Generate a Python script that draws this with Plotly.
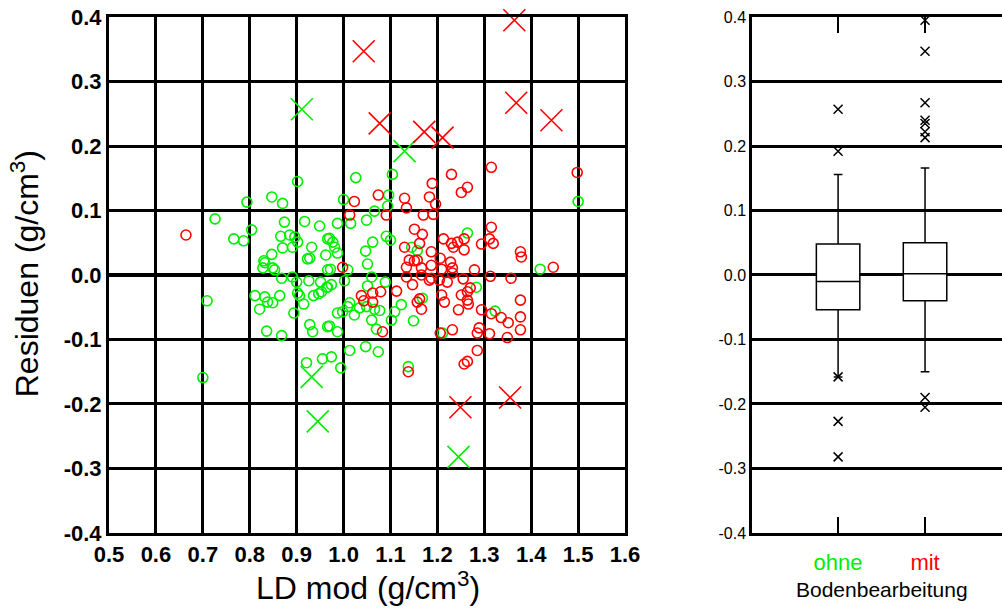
import plotly.graph_objects as go

# ---------------- data ----------------
ohne_x = [0.902, 0.794, 0.847, 0.870, 0.726, 0.804, 0.766, 0.787, 0.874, 0.917, 0.949, 0.866, 0.885, 0.896,
          0.902, 0.891, 0.870, 0.932, 0.966, 0.847, 0.923, 0.928, 0.962, 0.830, 0.832, 0.828, 0.849, 0.853,
          0.966, 0.709, 0.811, 0.832, 0.838, 0.849, 0.864, 0.821, 0.836, 0.868, 0.894, 0.902, 0.906, 0.915,
          0.936, 0.947, 0.953, 0.928, 0.934, 0.966, 0.868, 0.891, 0.900, 0.926, 0.951, 0.966, 0.921, 0.955,
          0.700, 1.026, 1.104, 1.000, 1.096, 1.094, 1.066, 0.987, 1.015, 1.049, 1.091, 1.100, 0.970, 0.977,
          0.981, 0.987, 1.062, 1.047, 1.051, 1.145, 1.157, 0.972, 1.009, 1.500, 1.264, 1.419, 1.060, 1.002,
          1.089, 0.974, 0.964, 1.051, 1.013, 1.009, 0.987, 0.998, 1.023, 1.034, 1.049, 1.066, 1.077, 1.060,
          1.102, 1.109, 1.123, 1.149, 1.070, 0.970, 0.987, 1.013, 1.047, 1.074, 0.974, 0.994, 1.138, 1.168,
          1.211, 1.283, 1.323]
ohne_y = [0.145, 0.113, 0.121, 0.111, 0.087, 0.070, 0.056, 0.053, 0.082, 0.083, 0.076, 0.060, 0.062, 0.059,
          0.051, 0.043, 0.042, 0.043, 0.056, 0.032, 0.025, 0.026, 0.031, 0.022, 0.019, 0.011, 0.011, 0.008,
          0.008, -0.040, -0.032, -0.034, -0.042, -0.043, -0.032, -0.053, -0.087, -0.094, -0.059, -0.028,
          -0.032, -0.045, -0.032, -0.029, -0.026, -0.077, -0.088, -0.080, -0.005, -0.003, -0.011, -0.009,
          -0.011, -0.019, -0.136, -0.130, -0.159, 0.151, 0.156, 0.117, 0.124, 0.107, 0.099, 0.080, 0.080,
          0.085, 0.060, 0.054, 0.057, 0.051, 0.043, 0.034, 0.051, 0.037, 0.017, 0.043, 0.038, 0.009, 0.008,
          0.114, 0.065, 0.009, -0.003, -0.009, -0.011, -0.015, -0.019, -0.017, -0.043, -0.049, -0.059, -0.057,
          -0.062, -0.051, -0.049, -0.053, -0.055, -0.070, -0.070, -0.057, -0.046, -0.071, -0.084, -0.079,
          -0.088, -0.117, -0.111, -0.119, -0.127, -0.144, -0.142, -0.036, -0.090, -0.019, -0.056]

mit_x = [0.664, 1.230, 1.189, 1.074, 1.023, 1.130, 1.134, 1.183, 1.196, 1.013, 1.091, 1.170, 1.191, 1.151,
         1.168, 1.162, 1.130, 1.213, 1.230, 1.234, 1.187, 1.206, 1.140, 1.151, 1.157, 1.134, 1.166, 1.187,
         1.209, 1.228, 1.232, 0.998, 1.315, 1.251, 1.264, 1.498, 1.315, 1.311, 1.319, 1.257, 1.243, 1.257,
         1.294, 1.377, 1.379, 1.447, 1.279, 1.134, 1.147, 1.113, 1.038, 1.043, 1.062, 1.079, 1.062, 1.162,
         1.157, 1.166, 1.183, 1.187, 1.204, 1.221, 1.209, 1.215, 1.232, 1.206, 1.083, 1.138, 1.166, 1.232,
         1.313, 1.357, 1.255, 1.251, 1.264, 1.270, 1.264, 1.266, 1.245, 1.294, 1.315, 1.336, 1.351, 1.377,
         1.377, 1.377, 1.349, 1.311, 1.289, 1.285, 1.285, 1.264, 1.257]
mit_y = [0.062, 0.156, 0.142, 0.124, 0.114, 0.119, 0.104, 0.121, 0.110, 0.093, 0.093, 0.093, 0.094, 0.071,
         0.063, 0.049, 0.043, 0.056, 0.049, 0.043, 0.036, 0.026, 0.023, 0.022, 0.023, 0.012, 0.011, 0.015,
         0.009, 0.020, 0.011, 0.012, 0.167, 0.128, 0.136, 0.159, 0.074, 0.056, 0.049, 0.056, 0.051, 0.039,
         0.048, 0.036, 0.028, 0.012, 0.008, -0.003, -0.015, -0.025, -0.032, -0.040, -0.028, -0.026, -0.042,
         -0.037, -0.042, -0.053, -0.008, -0.005, -0.008, -0.011, -0.031, -0.042, -0.085, -0.090, -0.088,
         -0.150, 0.000, 0.003, -0.002, -0.005, -0.006, -0.031, -0.026, -0.020, -0.039, -0.045, -0.054,
         -0.054, -0.060, -0.066, -0.074, -0.039, -0.065, -0.085, -0.097, -0.091, -0.082, -0.090, -0.117,
         -0.134, -0.138]

# outliers (large crosses in the scatter, small crosses in the box plot)
ohne_out_x = [0.911, 1.130, 0.932, 0.945, 1.245]
ohne_out_y = [0.257, 0.192, -0.158, -0.227, -0.282]
mit_out_x = [1.364, 1.043, 1.368, 1.443, 1.077, 1.172, 1.211, 1.249, 1.355]
mit_out_y = [0.395, 0.347, 0.267, 0.240, 0.235, 0.222, 0.213, -0.205, -0.190]

# box statistics: q1, median, q3, lower whisker, upper whisker
groups = ["ohne", "mit"]
box_q1 = [-0.054, -0.040]
box_median = [-0.010, 0.002]
box_q3 = [0.048, 0.050]
box_low = [-0.158, -0.150]
box_high = [0.156, 0.166]

x_ticks = [0.5, 0.6, 0.7, 0.8, 0.9, 1.0, 1.1, 1.2, 1.3, 1.4, 1.5, 1.6]
x_tick_text = ["0.5", "0.6", "0.7", "0.8", "0.9", "1.0", "1.1", "1.2", "1.3", "1.4", "1.5", "1.6"]
y_ticks = [-0.4, -0.3, -0.2, -0.1, 0.0, 0.1, 0.2, 0.3, 0.4]
y_tick_text = ["-0.4", "-0.3", "-0.2", "-0.1", "0.0", "0.1", "0.2", "0.3", "0.4"]

GREEN = "#00ee00"
RED = "#ff0000"
FONT = "Liberation Sans, Arial, sans-serif"

fig = go.Figure()

# scatter (left)
fig.add_trace(go.Scatter(x=ohne_x, y=ohne_y, mode="markers", xaxis="x", yaxis="y",
                         marker=dict(symbol="circle-open", size=10, color=GREEN, line=dict(width=1.6))))
fig.add_trace(go.Scatter(x=mit_x, y=mit_y, mode="markers", xaxis="x", yaxis="y",
                         marker=dict(symbol="circle-open", size=10, color=RED, line=dict(width=1.6))))
fig.add_trace(go.Scatter(x=ohne_out_x, y=ohne_out_y, mode="markers", xaxis="x", yaxis="y", cliponaxis=False,
                         marker=dict(symbol="x-thin-open", size=22, color=GREEN, line=dict(width=1.6, color=GREEN))))
fig.add_trace(go.Scatter(x=mit_out_x, y=mit_out_y, mode="markers", xaxis="x", yaxis="y", cliponaxis=False,
                         marker=dict(symbol="x-thin-open", size=22, color=RED, line=dict(width=1.6, color=RED))))

# box plot (right)
for i in range(len(groups)):
    fig.add_trace(go.Box(x=[i], q1=[box_q1[i]], median=[box_median[i]], q3=[box_q3[i]],
                         lowerfence=[box_low[i]], upperfence=[box_high[i]],
                         xaxis="x2", yaxis="y2", width=0.5, whiskerwidth=0.2,
                         fillcolor="white", line=dict(color="black", width=1.5), boxpoints=False))
for i, outs in enumerate([ohne_out_y, mit_out_y]):
    fig.add_trace(go.Scatter(x=[i] * len(outs), y=outs, mode="markers", xaxis="x2", yaxis="y2", cliponaxis=False,
                             marker=dict(symbol="x-thin-open", size=9, color="black",
                                         line=dict(width=1.5, color="black"))))

fig.update_layout(
    width=1002, height=608, margin=dict(l=0, r=0, t=0, b=0),
    paper_bgcolor="white", plot_bgcolor="white", showlegend=False,
    font=dict(family=FONT, color="black"),
    xaxis=dict(domain=[0.1088, 0.6238], range=[0.5, 1.6], tickvals=x_ticks, ticktext=x_tick_text,
               showgrid=True, gridcolor="black", gridwidth=2.5, zeroline=False,
               showline=True, linecolor="black", linewidth=3, mirror=True, ticks="",
               tickfont=dict(family=FONT, size=22, weight="bold"), anchor="y", automargin=False),
    yaxis=dict(domain=[0.1234, 0.972], range=[-0.4, 0.4], tickvals=y_ticks, ticktext=y_tick_text,
               showgrid=True, gridcolor="black", gridwidth=2.5,
               zeroline=True, zerolinecolor="black", zerolinewidth=3.5,
               showline=True, linecolor="black", linewidth=3, mirror=True, ticks="",
               tickfont=dict(family=FONT, size=22, weight="bold"), anchor="x", automargin=False),
    xaxis2=dict(domain=[0.7505, 1.0], range=[-0.99, 1.885], tickvals=[0, 1],
                ticktext=[f'<span style="color:{GREEN}">ohne</span>', f'<span style="color:{RED}">mit</span>'],
                showgrid=False, zeroline=False, showline=True, linecolor="black", linewidth=3,
                mirror="ticks", ticks="inside", ticklen=16, tickwidth=2, tickcolor="black",
                ticklabelstandoff=8,
                tickfont=dict(family=FONT, size=22), anchor="y2", automargin=False),
    yaxis2=dict(domain=[0.1234, 0.972], range=[-0.4, 0.4], tickvals=y_ticks, ticktext=y_tick_text,
                showgrid=True, gridcolor="black", gridwidth=2.5, zeroline=False,
                showline=True, linecolor="black", linewidth=2.5, ticks="",
                tickfont=dict(family=FONT, size=16), anchor="x2", automargin=False),
    annotations=[
        dict(text="LD mod (g/cm<sup>3</sup>)", x=0.367, y=0.036, xref="paper", yref="paper",
             xanchor="center", yanchor="middle", showarrow=False, font=dict(family=FONT, size=32)),
        dict(text="Residuen (g/cm<sup>3</sup>)", x=0.025, y=0.549, xref="paper", yref="paper",
             xanchor="center", yanchor="middle", textangle=-90, showarrow=False, font=dict(family=FONT, size=32)),
        dict(text="Bodenbearbeitung", x=0.880, y=0.030, xref="paper", yref="paper",
             xanchor="center", yanchor="middle", showarrow=False, font=dict(family=FONT, size=21)),
    ],
)

fig.write_html("out.html")
